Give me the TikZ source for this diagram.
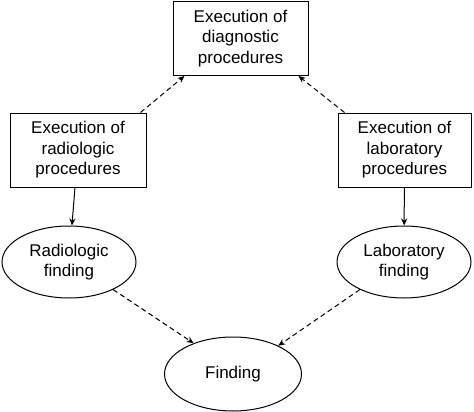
\documentclass[tikz,border=0pt]{standalone}
\usepackage{fontspec}
\setmainfont{Liberation Sans}
\usetikzlibrary{shapes.geometric,arrows.meta}
\begin{document}
\begin{tikzpicture}[
    x=1pt, y=-1pt,
    every node/.style={font=\fontsize{17}{20.5}\selectfont, align=center},
    proc/.style={rectangle, draw, line width=1pt, minimum height=74pt},
    find/.style={ellipse, draw, line width=1pt, minimum width=134pt, minimum height=72pt, inner sep=0pt},
    solidarrow/.style={-{Stealth[length=7pt,width=6pt]}, line width=1pt},
    dasharrow/.style={-{Stealth[length=7pt,width=6pt]}, line width=1pt, dash pattern=on 5pt off 3.5pt}
    ]
	\useasboundingbox (0,0) rectangle (474,412);
	\node [proc, minimum width=135pt] (diag) at (240.5,38.5) {Execution of\\diagnostic\\procedures};
	\node [proc, minimum width=136pt] (radproc) at (78,150) {Execution of\\radiologic\\procedures};
	\node [proc, minimum width=133pt] (labproc) at (404.5,150) {Execution of\\laboratory\\procedures};
	\node [find] (radfind) at (69,262) {Radiologic\\finding};
	\node [find] (labfind) at (404,262) {Laboratory\\finding};
	\node [find, minimum width=137pt, minimum height=74pt] (finding) at (233,374) {Finding};

	\draw [solidarrow] (radproc) -- (radfind);
	\draw [solidarrow] (labproc) -- (labfind);
	\draw [dasharrow] ([xshift=-6pt]radproc.north east) -- ([xshift=12pt]diag.south west);
	\draw [dasharrow] ([xshift=7pt]labproc.north west) -- ([xshift=-10pt]diag.south east);
	\draw [dasharrow] (radfind.-32) -- (finding.142);
	\draw [dasharrow] (labfind.212) -- (finding.32);
\end{tikzpicture}
\end{document}
